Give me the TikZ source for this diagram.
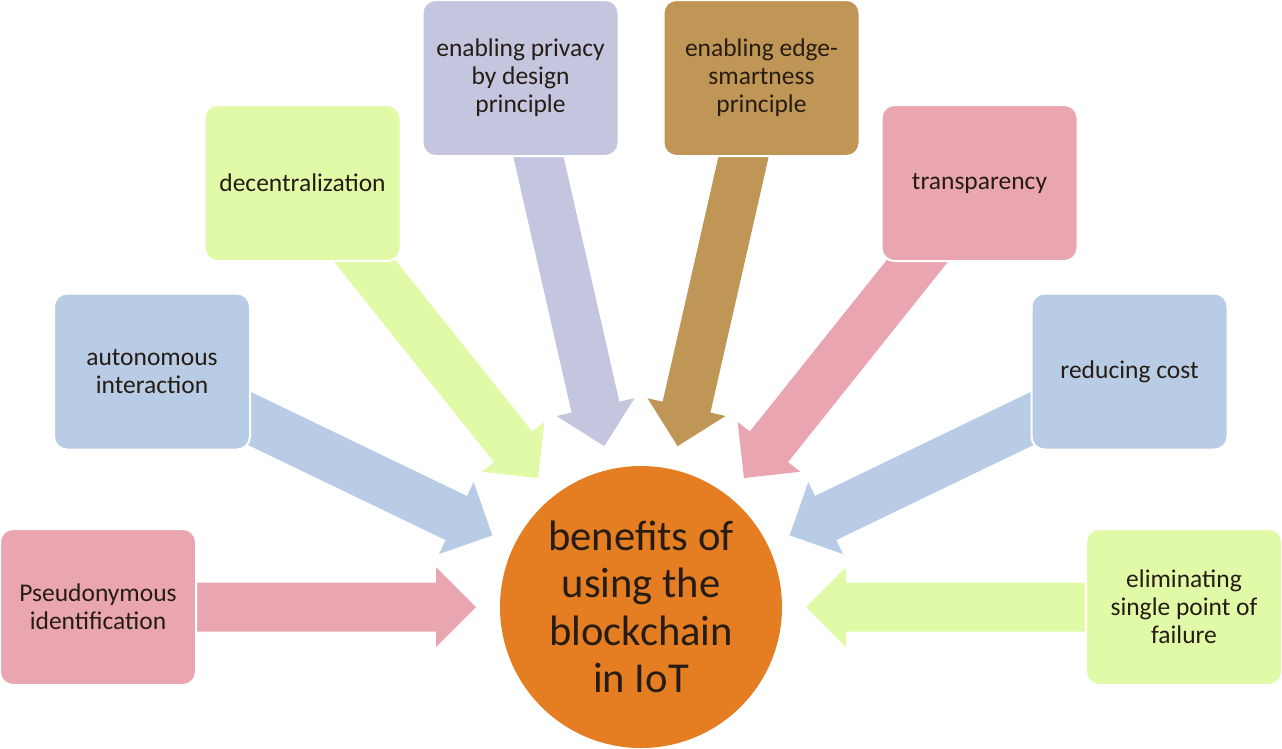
\documentclass[tikz,border=0pt]{standalone}
\usepackage{fontspec}
\setmainfont{Carlito}
\usetikzlibrary{calc}
\pgfdeclarelayer{bg}
\pgfsetlayers{bg,main}
\definecolor{pinkc}{RGB}{233,166,177}
\definecolor{bluec}{RGB}{184,204,230}
\definecolor{greenc}{RGB}{225,250,167}
\definecolor{brownc}{RGB}{192,150,86}
\definecolor{orangec}{RGB}{229,126,35}
\definecolor{lavc}{RGB}{196,198,224}
\definecolor{txtc}{RGB}{38,28,20}
\newcommand\blockarr[2]{%
  \path (#1.center) coordinate (T)
        ($(c.center)!165pt!(#1.center)$) coordinate (P);
  \path ($(P)!40pt!(T)$) coordinate (H);
  \fill[#2] ($(T)!24.5pt!90:(P)$) -- ($(H)!24.5pt!90:(P)$) -- ($(H)!40pt!90:(P)$) -- (P)
     -- ($(H)!40pt!-90:(P)$) -- ($(H)!24.5pt!-90:(P)$) -- ($(T)!24.5pt!-90:(P)$) -- cycle;
}
\tikzset{
  benefit/.style={rectangle, rounded corners=13pt, minimum width=196pt, minimum height=156pt,
    inner sep=2pt, align=center, draw=white, line width=2pt, text=txtc,
    font=\fontsize{25.5}{28}\selectfont},
  hub/.style={circle, minimum size=282pt, inner sep=0pt, fill=orangec, align=center,
    text=txtc, font=\fontsize{42.6}{47.5}\selectfont}
}
\begin{document}
\begin{tikzpicture}[x=1pt,y=-1pt]
\useasboundingbox (0,0) rectangle (1282,748);
\node[hub] (c) at (641,607) {benefits of\\using the\\blockchain\\in IoT};
\node[benefit, fill=pinkc] (b1) at (98,607) {Pseudonymous\\identification};
\node[benefit, fill=bluec] (b2) at (152,371.5) {autonomous\\interaction};
\node[benefit, fill=greenc] (b3) at (302.5,183) {decentralization};
\node[benefit, fill=lavc] (b4) at (520.5,78) {enabling privacy\\by design\\principle};
\node[benefit, fill=brownc] (b5) at (761.5,78) {enabling edge-\\smartness\\principle};
\node[benefit, fill=pinkc] (b6) at (979.5,183) {transparency};
\node[benefit, fill=bluec] (b7) at (1129.5,371.5) {reducing cost};
\node[benefit, fill=greenc] (b8) at (1184,607) {eliminating\\single point of\\failure};
\begin{pgfonlayer}{bg}
\fill[white] (0,0) rectangle (1282,748);
\blockarr{b1}{pinkc}
\blockarr{b2}{bluec}
\blockarr{b3}{greenc}
\blockarr{b4}{lavc}
\blockarr{b5}{brownc}
\blockarr{b6}{pinkc}
\blockarr{b7}{bluec}
\blockarr{b8}{greenc}
\end{pgfonlayer}
\end{tikzpicture}
\end{document}
